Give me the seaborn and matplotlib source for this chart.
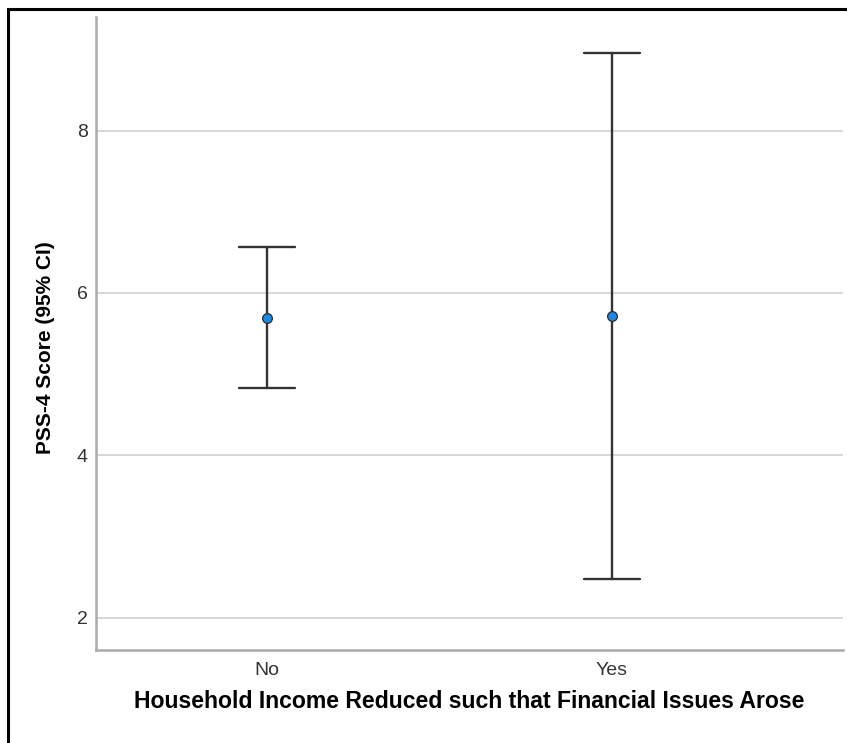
import pandas as pd
import matplotlib.pyplot as plt
import seaborn as sns
from matplotlib.patches import Rectangle

# summary values: mean and 95% CI bounds
categories = ['No', 'Yes']
means = [5.69, 5.71]
ci_low = [4.83, 2.48]
ci_high = [6.56, 8.95]
y_ticks = [2, 4, 6, 8]

# long table: low/mean/high per group; median of the three = mean,
# full-range interval = CI
rows = []
for cat, lo, m, hi in zip(categories, ci_low, means, ci_high):
    for v in (lo, m, hi):
        rows.append({'group': cat, 'score': v})
df = pd.DataFrame(rows)

sns.set_theme(style="white")
plt.rcParams['font.family'] = ['Liberation Sans', 'DejaVu Sans']

fig = plt.figure(figsize=(8.47, 7.43), dpi=100)
ax = fig.add_axes([0.1133, 0.1252, 0.882, 0.852])

ax.yaxis.grid(True, color='#d4d4d4', linewidth=1.3)
ax.set_axisbelow(True)

sns.pointplot(data=df, x='group', y='score', order=categories,
              estimator='median', errorbar=('pi', 100),
              color='#1e88e5', markers='o', linestyles='none',
              markersize=7, markeredgecolor='#2b2b2b', markeredgewidth=0.9,
              capsize=0.16, err_kws={'color': '#333333', 'linewidth': 1.7},
              ax=ax)
for ln in ax.lines:
    if ln.get_marker() == 'o':
        ln.set_zorder(5)

ax.set_xlim(-0.496, 1.67)
ax.set_ylim(1.6, 9.4)
ax.set_yticks(y_ticks)

for side in ('top', 'right'):
    ax.spines[side].set_visible(False)
for side in ('left', 'bottom'):
    ax.spines[side].set_color('#aaaaaa')
    ax.spines[side].set_linewidth(1.8)

ax.tick_params(axis='both', length=0, labelsize=14, labelcolor='#333333')
ax.tick_params(axis='y', pad=6)
ax.tick_params(axis='x', pad=9)

ax.set_xlabel('Household Income Reduced such that Financial Issues Arose',
              fontsize=16.6, fontweight='bold', color='#000000')
ax.set_ylabel('PSS-4 Score (95% CI)', fontsize=15, fontweight='bold',
              color='#000000')
ax.xaxis.set_label_coords(0.5, -0.064)
ax.yaxis.set_label_coords(-0.068, 0.478)
ax.yaxis.label.set_va('center')

# outer frame (only left and top edges fall inside the image)
fig.add_artist(Rectangle((7.5 / 847, -0.1), 1.2, 0.1 + 1 - 9.5 / 743,
                         transform=fig.transFigure, fill=False,
                         edgecolor='black', linewidth=2.2, clip_on=False))

fig.savefig('out.png', dpi=100)
plt.close(fig)
